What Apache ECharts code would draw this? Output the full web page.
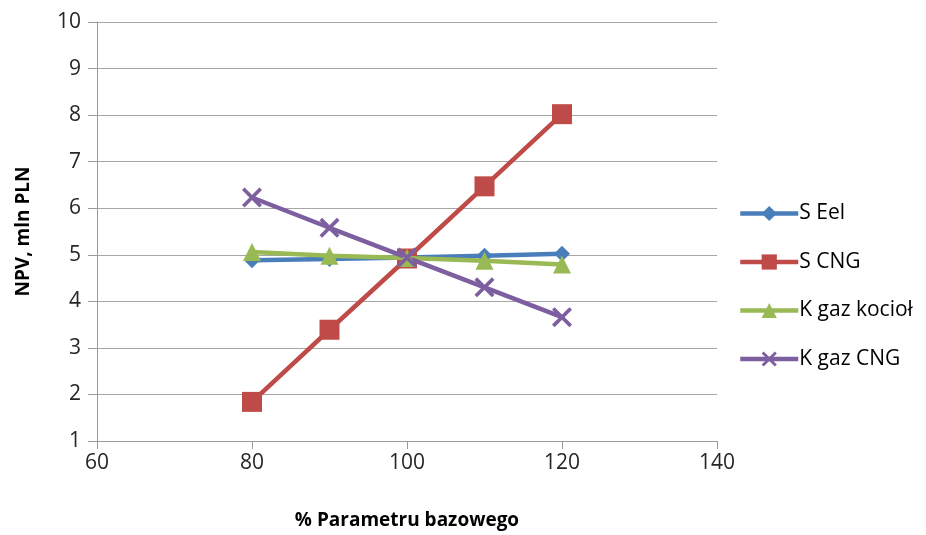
<!DOCTYPE html>
<html>
<head>
<meta charset="utf-8">
<script src="https://cdn.jsdelivr.net/npm/echarts@6/dist/echarts.min.js"></script>
<style>
  html, body { margin: 0; padding: 0; background: #fff; }
  #chart { width: 926px; height: 535px; }
</style>
</head>
<body>
<div id="chart"></div>
<script>
// Sensitivity of NPV to the base parameter (%)
const xValues = [80, 90, 100, 110, 120];
const sEel = [4.88, 4.91, 4.94, 4.98, 5.02];
const sCng = [1.84, 3.39, 4.92, 6.47, 8.02];
const kGazKociol = [5.06, 4.98, 4.93, 4.87, 4.79];
const kGazCng = [6.23, 5.58, 4.94, 4.30, 3.66];
const seriesNames = ['S Eel', 'S CNG', 'K gaz kocioł', 'K gaz CNG'];
const seriesColors = ['#4a7ebb', '#be4b48', '#98b954', '#7d5fa0'];

const crossPath = 'path://M0,1.3 L1.3,0 L10,8.7 L8.7,10 Z M8.7,0 L10,1.3 L1.3,10 L0,8.7 Z';
const symbols = ['diamond', 'rect', 'triangle', crossPath];
const symbolSizes = [16, 20, 18, 20];
const dataSets = [sEel, sCng, kGazKociol, kGazCng];

const font = '"Open Sans", "Liberation Sans", sans-serif';

const chart = echarts.init(document.getElementById('chart'));
chart.setOption({
  animation: false,
  backgroundColor: '#ffffff',
  grid: { left: 97, right: 209, top: 22, bottom: 89, containLabel: false },
  xAxis: {
    type: 'value',
    min: 60, max: 140, interval: 20,
    name: '% Parametru bazowego',
    nameLocation: 'middle',
    nameGap: 70,
    nameTextStyle: { fontFamily: font, fontWeight: 'bold', fontSize: 19, color: '#000' },
    axisLine: { show: true, lineStyle: { color: '#9a9a9a', width: 1 } },
    axisTick: { show: true, length: 8, lineStyle: { color: '#9a9a9a' } },
    axisLabel: { fontFamily: font, fontSize: 21, color: '#262626', margin: 12 },
    splitLine: { show: false }
  },
  yAxis: {
    type: 'value',
    min: 1, max: 10, interval: 1,
    name: 'NPV, mln PLN',
    nameLocation: 'middle',
    nameGap: 64,
    nameRotate: 90,
    nameTextStyle: { fontFamily: font, fontWeight: 'bold', fontSize: 19, color: '#000' },
    axisLine: { show: true, lineStyle: { color: '#9a9a9a', width: 1 } },
    axisTick: { show: true, length: 9, lineStyle: { color: '#9a9a9a' } },
    axisLabel: { fontFamily: font, fontSize: 21, color: '#262626', margin: 16 },
    splitLine: { show: true, lineStyle: { color: '#a6a6a6', width: 1 } }
  },
  legend: {
    orient: 'vertical',
    left: 733,
    top: 198,
    itemWidth: 58,
    itemHeight: 19,
    itemGap: 27.5,
    lineStyle: { width: 4.5 },
    textStyle: { fontFamily: font, fontSize: 21, color: '#000', padding: [0, 0, 0, -4] },
    data: seriesNames
  },
  series: seriesNames.map((name, i) => ({
    name: name,
    type: 'line',
    data: xValues.map((x, j) => [x, dataSets[i][j]]),
    symbol: symbols[i],
    symbolSize: symbolSizes[i],
    showAllSymbol: true,
    lineStyle: { color: seriesColors[i], width: 4.5 },
    itemStyle: { color: seriesColors[i] },
    z: 2 + (i === 3 ? 2 : i)
  }))
});
</script>
</body>
</html>
